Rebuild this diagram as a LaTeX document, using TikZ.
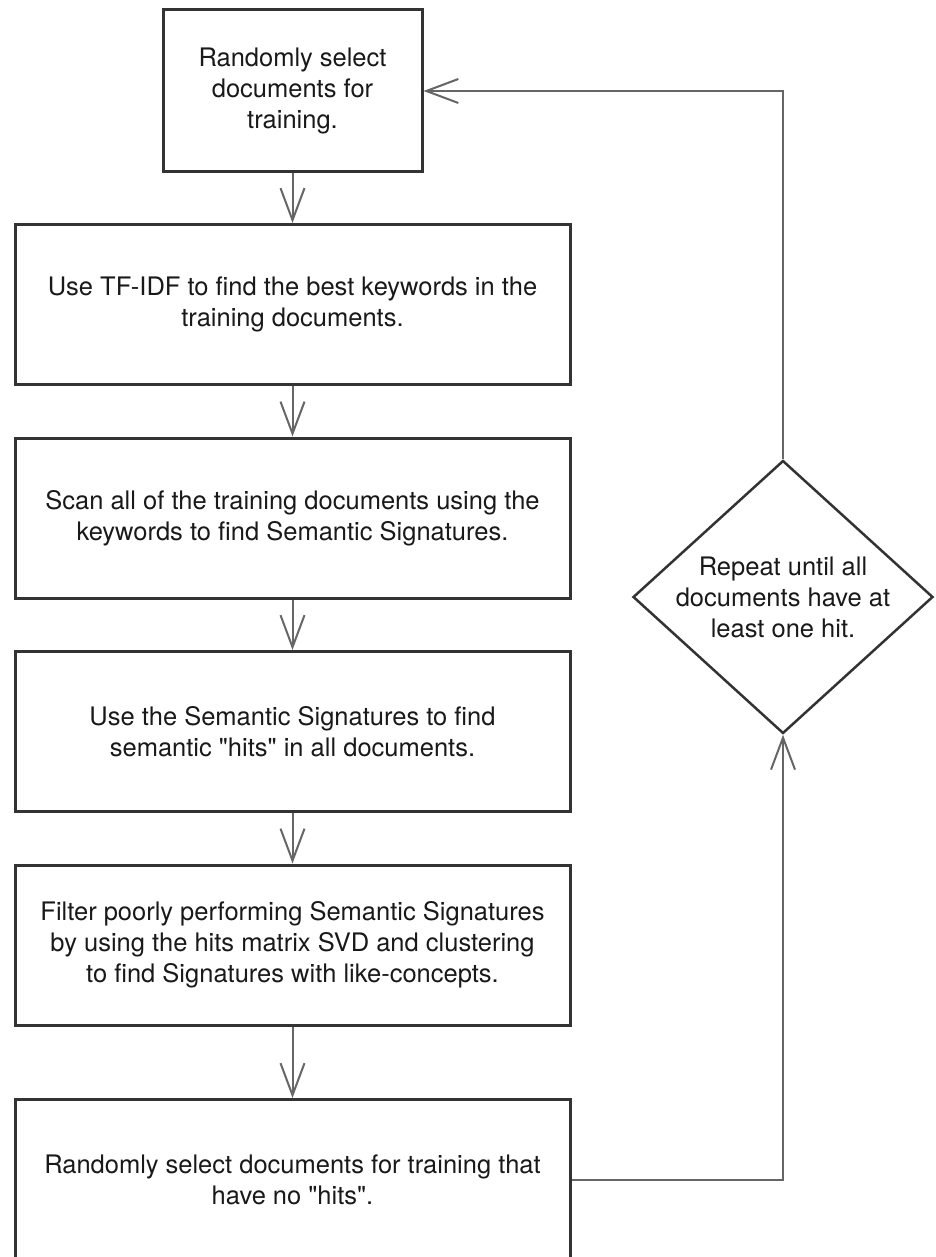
\documentclass[tikz,border=0pt]{standalone}
\usepackage{fontspec}
\setmainfont{TeX Gyre Heros}[Ligatures=TeXOff]
\usetikzlibrary{arrows.meta,positioning,shapes.geometric}

\begin{document}
\begin{tikzpicture}[x=1pt,y=1pt,>={Straight Barb[length=32pt,width=24pt]},node distance=213.5pt,on grid,
  every node/.style={font=\fontsize{25.5}{31}\selectfont, text=black!90},
  stage/.style={draw=black!80, line width=3pt, minimum width=555pt, minimum height=160pt, inner sep=0pt, align=center},
  decision/.style={diamond, draw=black!80, line width=2.5pt, minimum width=300pt, minimum height=273pt, aspect=1.1, inner sep=-10pt, align=center},
  link/.style={->, draw=black!60, line width=2pt}]
  \useasboundingbox (0,0) rectangle (935,-1257);

  \node[stage, minimum width=259pt, minimum height=162pt] (pick) at (292.5,-91) {Randomly select\\documents for\\training.};
  \node[stage] (tfidf) [below=of pick] {Use TF-IDF to find the best keywords in the\\training documents.};
  \node[stage] (scan) [below=of tfidf] {Scan all of the training documents using the\\keywords to find Semantic Signatures.};
  \node[stage] (hits) [below=of scan] {Use the Semantic Signatures to find\\semantic "hits" in all documents.};
  \node[stage] (filter) [below=of hits] {Filter poorly performing Semantic Signatures\\by using the hits matrix SVD and clustering\\to find Signatures with like-concepts.};
  \node[stage] (redo) [below=234.5pt of filter] {Randomly select documents for training that\\have no "hits".};
  \node[decision] (repeat) at (783,-597) {Repeat until all\\documents have at\\least one hit.};

  \draw[link] (pick) -- (tfidf);
  \draw[link] (tfidf) -- (scan);
  \draw[link] (scan) -- (hits);
  \draw[link] (hits) -- (filter);
  \draw[link] (filter) -- (redo);
  \draw[link] (redo) -| (repeat);
  \draw[link] (repeat) |- (pick);
\end{tikzpicture}
\end{document}
